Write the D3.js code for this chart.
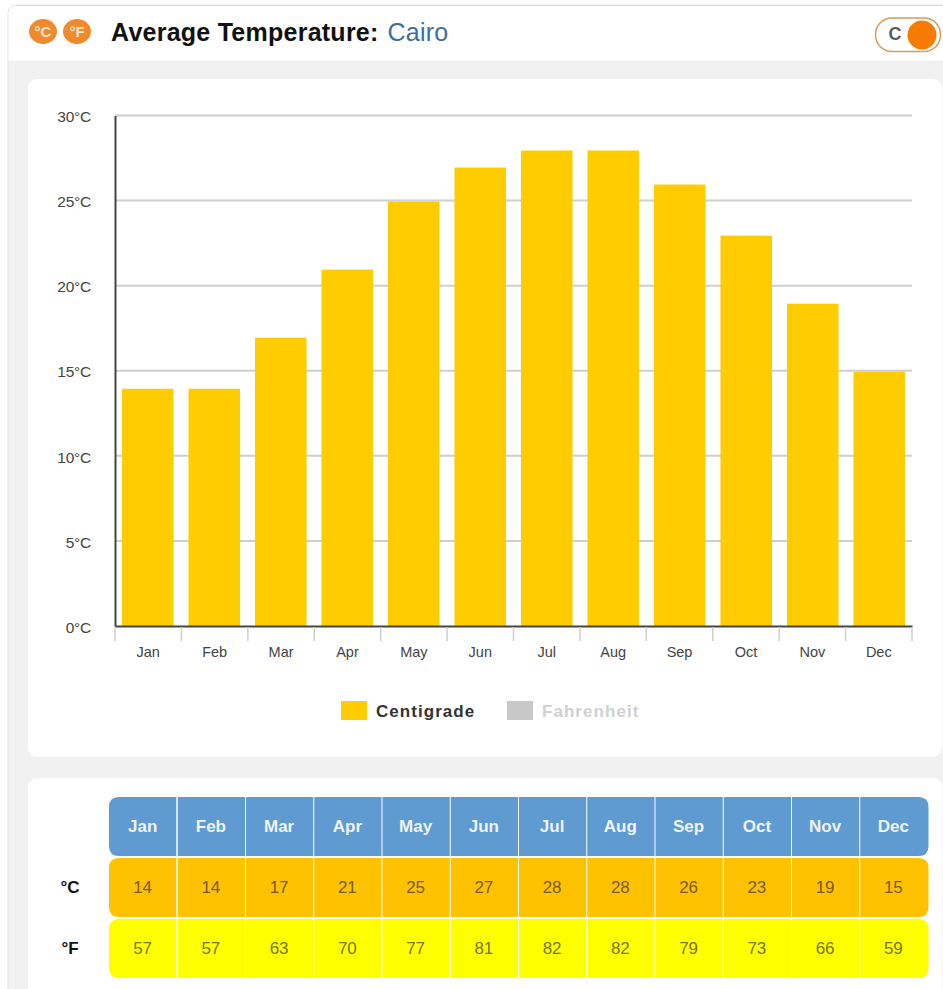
<!DOCTYPE html>
<html><head><meta charset="utf-8">
<script src="https://cdn.jsdelivr.net/npm/d3@7/dist/d3.min.js"></script>
<style>html,body{margin:0;padding:0;background:#fff;overflow:hidden}svg{display:block}text{font-family:"Liberation Sans",Arial,sans-serif}</style>
</head><body><svg id="c" width="943" height="989"></svg>
<script>
const months=["Jan","Feb","Mar","Apr","May","Jun","Jul","Aug","Sep","Oct","Nov","Dec"];
const centigrade=[14,14,17,21,25,27,28,28,26,23,19,15];
const fahrenheit=[57,57,63,70,77,81,82,82,79,73,66,59];
const yTicks=[0,5,10,15,20,25,30];
const titleText="Average Temperature:";
const cityText="Cairo";
const legendNames=["Centigrade","Fahrenheit"];
const rowLabels=["°C","°F"];

const svg=d3.select("#c");
const rr=(p,x,y,w,h,r,tl,tr,br,bl)=>{
  const a=tl?r:0,b=tr?r:0,c=br?r:0,d=bl?r:0;
  return p.append("path").attr("d",`M${x+a},${y}H${x+w-b}Q${x+w},${y} ${x+w},${y+b}V${y+h-c}Q${x+w},${y+h} ${x+w-c},${y+h}H${x+d}Q${x},${y+h} ${x},${y+h-d}V${y+a}Q${x},${y} ${x+a},${y}Z`);
};
// page panels
svg.append("rect").attr("x",8).attr("y",5).attr("width",945).attr("height",1004).attr("rx",8).attr("fill","#f1f1f1").attr("stroke","#e2e2e2");
rr(svg,8.5,5.5,934.5,55,8,true,false,false,false).attr("fill","#fff");
svg.append("line").attr("x1",16).attr("x2",943).attr("y1",5.5).attr("y2",5.5).attr("stroke","#dcdcdc");
svg.append("rect").attr("x",28).attr("y",79).attr("width",914).attr("height",678).attr("rx",9).attr("fill","#fff");
svg.append("rect").attr("x",28).attr("y",778).attr("width",914).attr("height",230).attr("rx",9).attr("fill","#fff");

// header
[["°C",43],["°F",77]].forEach(([t,x])=>{
  svg.append("ellipse").attr("cx",x).attr("cy",31.5).attr("rx",14).attr("ry",12.5).attr("fill","#f08a2c");
  svg.append("text").attr("x",x).attr("y",37).attr("text-anchor","middle").attr("font-size",15).attr("font-weight","bold").attr("fill","#fde4cc").text(t);
});
const title=svg.append("text").attr("x",111).attr("y",41);
title.append("tspan").attr("font-weight","bold").attr("fill","#111").attr("font-size",25).style("letter-spacing","0.25px").text(titleText);
title.append("tspan").attr("dx",9).attr("fill","#3d6f9c").attr("font-size",25).style("letter-spacing","0.2px").text(cityText);
// toggle
svg.append("rect").attr("x",875.5).attr("y",18).attr("width",65).attr("height",33.5).attr("rx",16.5).attr("fill","#fff").attr("stroke","#d99a5a").attr("stroke-width",1.5);
svg.append("text").attr("x",895).attr("y",40).attr("text-anchor","middle").attr("font-size",18).attr("font-weight","bold").attr("fill","#5a5a5a").text("C");
svg.append("circle").attr("cx",922).attr("cy",35).attr("r",14.5).attr("fill","#f57c00");

// chart
const x=d3.scaleBand().domain(months).range([115,912]).paddingInner(0.225).paddingOuter(0.105);
const xFull=d3.scaleBand().domain(months).range([115,912]);
const y=d3.scaleLinear().domain([0,30]).range([626,115.5]);
const g=svg.append("g");
g.selectAll("line.grid").data(yTicks.filter(d=>d>0)).join("line").attr("class","grid")
 .attr("x1",115).attr("x2",912).attr("y1",d=>y(d)).attr("y2",d=>y(d)).attr("stroke","#cfcfcf").attr("stroke-width",2);
g.selectAll("rect.bar").data(centigrade).join("rect").attr("class","bar")
 .attr("x",(d,i)=>x(months[i])).attr("width",x.bandwidth()).attr("y",d=>y(d)+1).attr("height",d=>y(0)-y(d)-1).attr("fill","#ffcc00");

const yAxis=g.append("g").attr("transform","translate(115,0)").call(d3.axisLeft(y).tickValues(yTicks).tickSize(0).tickPadding(24).tickFormat(d=>d+"°C"));
yAxis.select(".domain").attr("stroke","#444").attr("stroke-width",2);
yAxis.selectAll("text").attr("font-size",15.5).attr("fill","#444").attr("dy","0.4em").attr("font-family","'Liberation Sans',Arial,sans-serif").style("letter-spacing","-0.25px");

const xAxis=g.append("g").attr("transform","translate(0,626)").call(d3.axisBottom(xFull).tickSize(0).tickPadding(17));
xAxis.select(".domain").attr("stroke","#444").attr("stroke-width",2);
xAxis.selectAll("text").attr("font-size",14.5).attr("fill","#444").attr("font-family","'Liberation Sans',Arial,sans-serif").attr("dy","0.95em");
g.selectAll("line.xt").data(months.concat("end")).join("line").attr("class","xt")
 .attr("x1",(d,i)=>115+i*xFull.bandwidth()).attr("x2",(d,i)=>115+i*xFull.bandwidth()).attr("y1",627).attr("y2",641).attr("stroke","#cfcfcf").attr("stroke-width",1.5);

// legend
const lg=[{x:341,c:"#ffcc00",t:"#333"},{x:507,c:"#c8c8c8",t:"#cfd0d2"}];
lg.forEach((l,i)=>{
  svg.append("rect").attr("x",l.x).attr("y",701).attr("width",26).attr("height",19).attr("fill",l.c);
  svg.append("text").attr("x",l.x+35).attr("y",717).attr("font-size",17).attr("font-weight","bold").attr("fill",l.t).style("letter-spacing","1.05px").text(legendNames[i]);
});

// table
const tx=d3.scaleBand().domain(months).range([109,928]);
const rows=[
 {y:797,h:59,fill:"#5f9ad0",vals:months,color:"#eef4fa",bold:true,size:17},
 {y:858,h:59,fill:"#ffc200",vals:centigrade,color:"#7a5a10",bold:false,size:17},
 {y:919,h:59,fill:"#ffff00",vals:fahrenheit,color:"#77771a",bold:false,size:17}
];
rows.forEach((r,ri)=>{
  r.vals.forEach((v,i)=>{
    const cx=tx(months[i]),w=tx.bandwidth();
    const first=i===0,last=i===11;
    rr(svg,cx+(first?0:.5),r.y,w-(last?0:1),r.h,10,first,last,last,first).attr("fill",r.fill);
    svg.append("text").attr("x",cx+w/2-.5).attr("y",r.y+r.h/2+5.5).attr("text-anchor","middle")
      .attr("font-size",r.size).attr("font-weight",r.bold?"bold":"normal").attr("fill",r.color).text(v);
  });
  if(ri>0) svg.append("text").attr("x",70).attr("y",r.y+r.h/2+5.5).attr("text-anchor","middle").attr("font-size",17).attr("font-weight","bold").attr("fill","#111").text(rowLabels[ri-1]);
});
</script></body></html>
